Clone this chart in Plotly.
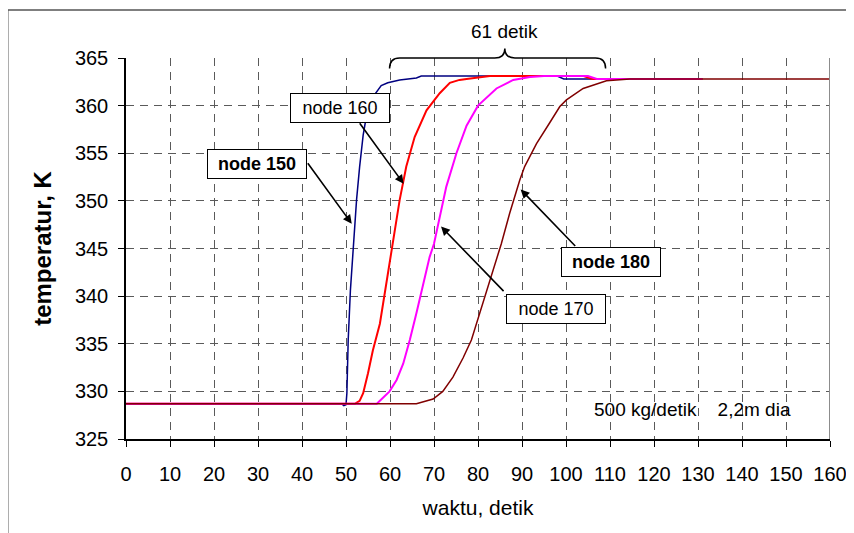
import plotly.graph_objects as go

# ---- data ----
t_150 = [0, 49, 49.5, 50, 50.2, 50.5, 51.0, 51.6, 52.4, 53.1, 53.9, 54.6, 56.1, 58.0, 59.5, 62.2, 66.0, 67.1, 98, 99.5, 131]
T_150 = [328.7, 328.7, 328.5, 328.6, 329.8, 335.4, 340.6, 345.2, 350.1, 353.6, 356.9, 358.8, 360.9, 362.1, 362.4, 362.7, 362.9, 363.1, 363.1, 362.8, 362.8]

t_160 = [0, 52, 53.1, 53.9, 55.0, 56.1, 57.7, 58.8, 59.9, 60.7, 62.2, 63.7, 65.6, 68.3, 69.8, 71.3, 73.6, 75.8, 77.4, 82.7, 104, 106, 131]
T_160 = [328.7, 328.7, 329.0, 329.8, 331.9, 334.3, 337.1, 340.3, 343.4, 345.5, 350.1, 353.6, 356.7, 359.5, 360.4, 361.3, 362.4, 362.7, 362.8, 363.1, 363.1, 362.8, 362.8]

t_170 = [0, 57, 59.9, 61.5, 63.0, 64.5, 66.0, 67.5, 69.0, 70.0, 71.3, 72.8, 75.1, 77.4, 80.0, 84.2, 88.0, 91.8, 95, 105, 107, 131]
T_170 = [328.7, 328.7, 330.0, 331.2, 332.9, 335.4, 338.2, 341.3, 344.1, 345.5, 348.3, 351.5, 355.0, 357.9, 360.0, 361.8, 362.7, 363.0, 363.1, 363.1, 362.8, 362.8]

t_180 = [0, 66, 69.8, 72.0, 74.3, 76.6, 78.5, 80.4, 82.3, 84.2, 85.3, 87.2, 89.5, 90.6, 93.3, 96.3, 98.6, 100.1, 103.9, 109.2, 114.5, 160]
T_180 = [328.7, 328.7, 329.2, 330.0, 331.5, 333.5, 335.4, 338.2, 341.0, 343.8, 345.5, 348.7, 352.2, 353.6, 356.0, 358.2, 359.9, 360.6, 361.8, 362.6, 362.8, 362.8]

series_names = ["node 150", "node 160", "node 170", "node 180"]
series_colors = ["#000080", "#FF0000", "#FF00FF", "#800000"]
series_widths = [1.5, 2, 2, 1.5]

x_ticks = list(range(0, 161, 10))
y_ticks = list(range(325, 366, 5))
X_RANGE = [0, 160]
Y_RANGE = [325, 365]

FONT = "Liberation Sans, Arial, sans-serif"

fig = go.Figure()
for t, T, name, col, w in zip([t_150, t_160, t_170, t_180], [T_150, T_160, T_170, T_180],
                              series_names, series_colors, series_widths):
    fig.add_trace(go.Scatter(x=t, y=T, mode="lines", name=name,
                             line=dict(color=col, width=w), showlegend=False))


def px(x):
    return (x - X_RANGE[0]) / (X_RANGE[1] - X_RANGE[0])


def py(y):
    return (y - Y_RANGE[0]) / (Y_RANGE[1] - Y_RANGE[0])


# curly brace "61 detik"
brace = [(59.9, 363.9), (59.9, 365.0), (62.2, 365.0), (83.8, 365.0), (86.1, 365.0), (86.1, 366.0),
         (86.1, 365.0), (88.4, 365.0), (106.7, 365.0), (109.0, 365.0), (109.0, 363.9)]
b = [(px(a), py(c)) for a, c in brace]
path = (f"M {b[0][0]} {b[0][1]} Q {b[1][0]} {b[1][1]} {b[2][0]} {b[2][1]} "
        f"L {b[3][0]} {b[3][1]} Q {b[4][0]} {b[4][1]} {b[5][0]} {b[5][1]} "
        f"Q {b[6][0]} {b[6][1]} {b[7][0]} {b[7][1]} "
        f"L {b[8][0]} {b[8][1]} Q {b[9][0]} {b[9][1]} {b[10][0]} {b[10][1]}")
fig.add_shape(type="path", path=path, xref="paper", yref="paper",
              line=dict(color="black", width=1.5), layer="above")

# right border of plot area
fig.add_shape(type="line", xref="x", yref="y", x0=160, x1=160, y0=325, y1=365,
              line=dict(color="#8c8c8c", width=2), layer="above")

# outer frame
fig.add_shape(type="rect", xref="paper", yref="paper", x0=-0.168, x1=1.06, y0=-0.3, y1=1.126,
              line=dict(color="#555555", width=1.5), layer="below")

annotations = []
# label boxes
boxes = [
    ("node 160", 48.6, 359.8),
    ("<b>node 150</b>", 29.7, 353.9),
    ("<b>node 180</b>", 110.3, 343.6),
    ("node 170", 97.7, 338.7),
]
for txt, x, y in boxes:
    annotations.append(dict(x=x, y=y, xref="x", yref="y", text=txt, showarrow=False,
                            font=dict(family=FONT, size=18, color="black"),
                            bgcolor="white", bordercolor="black", borderwidth=1,
                            borderpad=0, width=98, height=28))
# arrows
arrows = [
    (51.3, 347.6, -45, -62),
    (63.1, 351.8, -45, -62),
    (89.7, 351.2, 56, 58),
    (71.6, 347.3, 64, 66),
]
for x, y, ax, ay in arrows:
    annotations.append(dict(x=x, y=y, xref="x", yref="y", text="", showarrow=True,
                            ax=ax, ay=ay, arrowhead=2, arrowsize=1.1, arrowwidth=1.6,
                            arrowcolor="black", standoff=0))

annotations.append(dict(x=px(86.1), y=py(367.8), xref="paper", yref="paper",
                        xanchor="center", yanchor="middle",
                        text="61 detik", showarrow=False,
                        font=dict(family=FONT, size=19, color="black")))
annotations.append(dict(x=px(128.8), y=py(328.1), xref="paper", yref="paper",
                        xanchor="center", yanchor="middle",
                        text="500 kg/detik\u00a0\u00a0\u00a0\u00a02,2m dia", showarrow=False,
                        font=dict(family=FONT, size=19, color="black")))

axis_common = dict(showgrid=True, gridcolor="#5a5a5a", gridwidth=1, griddash="8px,6px",
                   showline=True, linecolor="black", linewidth=1.5, ticks="outside",
                   ticklen=6, tickcolor="black", tickwidth=1, zeroline=False,
                   automargin=False,
                   tickfont=dict(family=FONT, size=20, color="black"))

fig.update_layout(
    width=846, height=525,
    margin=dict(l=118, r=24, t=50, b=94),
    paper_bgcolor="white", plot_bgcolor="white",
    font=dict(family=FONT, color="black"),
    xaxis=dict(range=X_RANGE, tickvals=x_ticks, ticktext=[str(v) for v in x_ticks],
               title=dict(text="waktu, detik", font=dict(family=FONT, size=21), standoff=17),
               ticklabelstandoff=10, **axis_common),
    yaxis=dict(range=Y_RANGE, tickvals=y_ticks, ticktext=[str(v) for v in y_ticks],
               title=dict(text="<b>temperatur, K</b>", font=dict(family=FONT, size=24), standoff=16),
               ticklabelstandoff=6, **axis_common),
    annotations=annotations,
    showlegend=False,
)

fig.write_html("out.html")
